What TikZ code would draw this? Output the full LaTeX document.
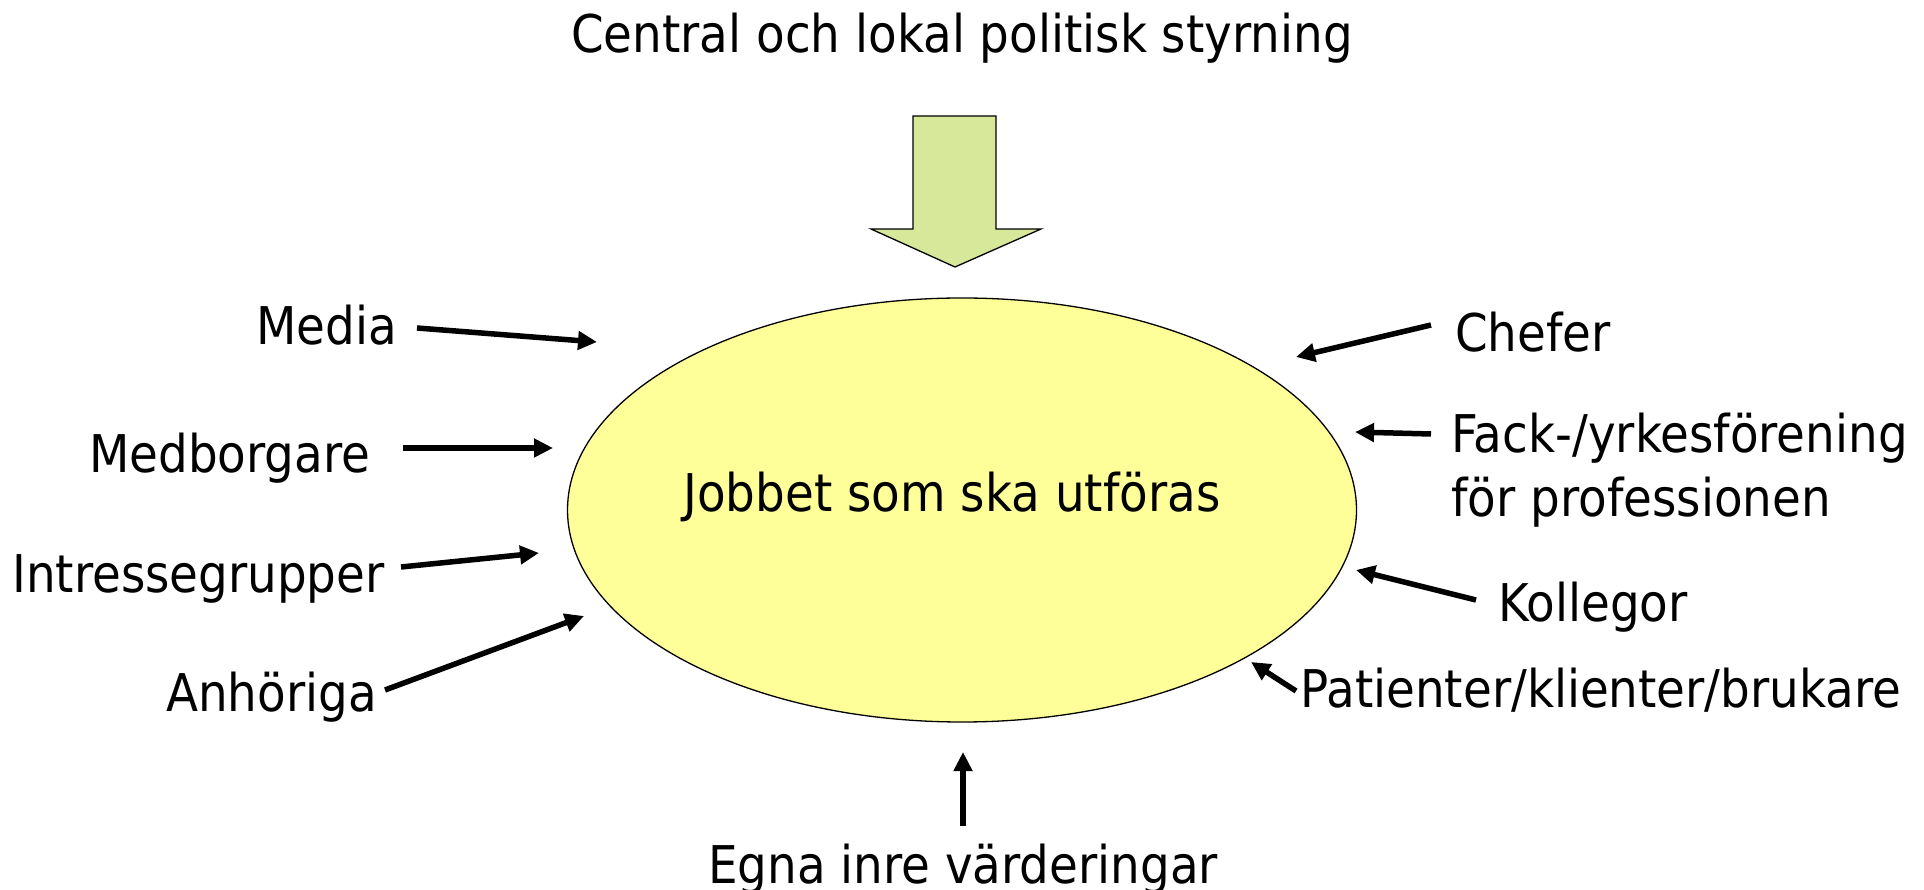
\documentclass[tikz,border=0pt]{standalone}
\usepackage{fontspec}
\setmainfont{DejaVu Sans}[FakeStretch=0.9]
\usetikzlibrary{arrows.meta,shapes.geometric}
\definecolor{ellfill}{RGB}{255,255,153}
\definecolor{arrfill}{RGB}{215,232,155}
\begin{document}
\begin{tikzpicture}[x=1pt,y=1pt,
  lbl/.style={inner sep=0pt,font=\fontsize{52}{64}\selectfont},
  arr/.style={line width=5.5pt,-{Triangle[length=19pt,width=18pt]}}]
\useasboundingbox (0,0) rectangle (1924,889);
% central ellipse
\node[ellipse,draw=black,line width=1.3pt,fill=ellfill,minimum width=789pt,minimum height=424pt,inner sep=0pt] (ell) at (962,379) {};
\node[lbl,anchor=base] (job) at (952,377) {Jobbet som ska utföras};
% title and big arrow
\node[lbl,anchor=base] (title) at (962,836) {Central och lokal politisk styrning};
\draw[line width=1.3pt,fill=arrfill] (913,773) -- (996,773) -- (996,660) -- (1041,660) -- (955,622) -- (871,660) -- (913,660) -- cycle;
% labels
\node[lbl,anchor=base west] (media) at (256,544) {Media};
\node[lbl,anchor=base west] (medb) at (89,416) {Medborgare};
\node[lbl,anchor=base west] (intr) at (12,296) {Intressegrupper};
\node[lbl,anchor=base west] (anh) at (166,177) {Anhöriga};
\node[lbl,anchor=base west] (chef) at (1455,537) {Chefer};
\node[lbl,anchor=base west,align=left] (fack) at (1451,372) {Fack-/yrkesförening\\för professionen};
\node[lbl,anchor=base west] (koll) at (1498,267) {Kollegor};
\node[lbl,anchor=base west] (pat) at (1300,181) {Patienter/klienter/brukare};
\node[lbl,anchor=base] (egna) at (963,6) {Egna inre värderingar};
% arrow end points
\coordinate (mediaT) at (417,561); \coordinate (mediaH) at (597,547);
\coordinate (medbT) at (403,441); \coordinate (medbH) at (553,441);
\coordinate (intrT) at (401,322); \coordinate (intrH) at (539,336);
\coordinate (anhT) at (385,199); \coordinate (anhH) at (584,273);
\coordinate (chefT) at (1431,564); \coordinate (chefH) at (1296,532);
\coordinate (fackT) at (1431,455); \coordinate (fackH) at (1355,457);
\coordinate (kollT) at (1476,289); \coordinate (kollH) at (1356,319);
\coordinate (patT) at (1296,198); \coordinate (patH) at (1251,227);
\coordinate (egnaT) at (963,63); \coordinate (egnaH) at (963,137);
% arrows
\draw[arr] (mediaT) -- (mediaH);
\draw[arr] (medbT) -- (medbH);
\draw[arr] (intrT) -- (intrH);
\draw[arr] (anhT) -- (anhH);
\draw[arr] (chefT) -- (chefH);
\draw[arr] (fackT) -- (fackH);
\draw[arr] (kollT) -- (kollH);
\draw[arr] (patT) -- (patH);
\draw[arr] (egnaT) -- (egnaH);
\end{tikzpicture}
\end{document}
